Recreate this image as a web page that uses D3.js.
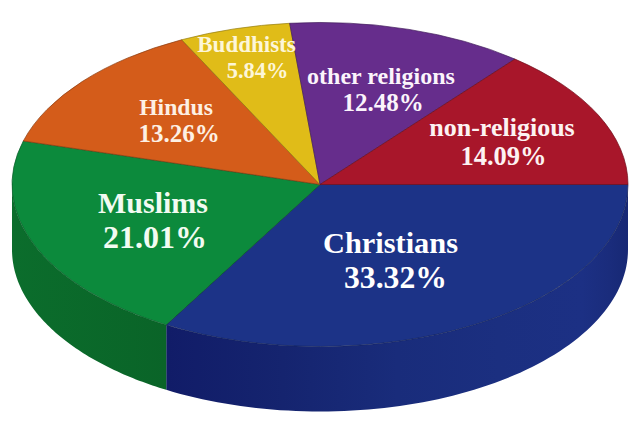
<!DOCTYPE html>
<html>
<head>
<meta charset="utf-8">
<script src="https://cdn.jsdelivr.net/npm/d3@7"></script>
<style>
html,body{margin:0;padding:0;background:#fff;}
svg{display:block;}
text{font-family:"Liberation Serif",serif;font-weight:bold;text-anchor:middle;}
</style>
</head>
<body>
<svg id="c" width="637" height="436"></svg>
<script>
const categories = ["Christians","Muslims","Hindus","Buddhists","other religions","non-religious"];
const shares = [33.32,21.01,13.26,5.84,12.48,14.09];
const shareLabels = ["33.32%","21.01%","13.26%","5.84%","12.48%","14.09%"];
const topColors = ["#1c3387","#0c8a3c","#d45c1a","#e0bc18","#662d8c","#a8162a"];
const labelColors = ["#ffffff","#f2fbf2","#fdf0e4","#fdf6d8","#fbf4fb","#fdf2f2"];
const nameSizes = [30.4,30,23.7,23,24,26];
const shareSizes = [31.7,32,25,22.4,25,26.5];
const nameX = [390.5,153,176,246.5,381,502];
const shareX = [395.5,155,179,257.5,383,503.5];
const nameY = [253,213,115,52,84,136];
const shareY = [288,248,142,78,111,165];

const cx=320,cy=184.5,rx=308,ry=162,depth=65;
const svg=d3.select("#c");
const defs=svg.append("defs");

const blue=defs.append("linearGradient").attr("id","blueSide")
  .attr("gradientUnits","userSpaceOnUse").attr("x1",167).attr("x2",628).attr("y1",0).attr("y2",0);
[[0,"#111c68"],[0.25,"#15246f"],[0.5,"#192c7b"],[0.72,"#1b2f80"],[0.9,"#1c3084"],[0.96,"#1a2c7c"],[1,"#172874"]]
 .forEach(s=>blue.append("stop").attr("offset",s[0]).attr("stop-color",s[1]));
const green=defs.append("linearGradient").attr("id","greenSide")
  .attr("gradientUnits","userSpaceOnUse").attr("x1",12).attr("x2",167).attr("y1",0).attr("y2",0);
[[0,"#0b6d2c"],[1,"#0a6428"]]
 .forEach(s=>green.append("stop").attr("offset",s[0]).attr("stop-color",s[1]));
const sideFill=["url(#blueSide)","url(#greenSide)"];

const pie=d3.pie().sort(null).startAngle(Math.PI/2).endAngle(Math.PI/2+2*Math.PI);
const slices=pie(shares);

const side=d3.area()
  .x(a=>cx+rx*Math.sin(a))
  .y0(a=>cy-ry*Math.cos(a))
  .y1(a=>cy-ry*Math.cos(a)+depth);
slices.slice(0,2).forEach((s,i)=>{
  const a0=s.startAngle,a1=Math.min(s.endAngle,1.5*Math.PI);
  const n=80;
  const angles=d3.range(n+1).map(k=>a0+(a1-a0)*k/n);
  svg.append("path").attr("d",side(angles)).attr("fill",sideFill[i]);
});

const arc=d3.arc().innerRadius(0).outerRadius(rx);
const face=svg.append("g").attr("transform",`translate(${cx},${cy}) scale(1,${ry/rx})`);
face.selectAll("path").data(slices).join("path")
  .attr("d",arc)
  .attr("fill",(d,i)=>topColors[i])
  .attr("stroke",(d,i)=>d3.color(topColors[i]).darker(1.2))
  .attr("stroke-width",0.7)
  .attr("vector-effect","non-scaling-stroke");

categories.forEach((c,i)=>{
  svg.append("text").attr("x",nameX[i]).attr("y",nameY[i]).attr("font-size",nameSizes[i]).attr("fill",labelColors[i]).text(c);
  svg.append("text").attr("x",shareX[i]).attr("y",shareY[i]).attr("font-size",shareSizes[i]).attr("fill",labelColors[i]).text(shareLabels[i]);
});
</script>
</body>
</html>
